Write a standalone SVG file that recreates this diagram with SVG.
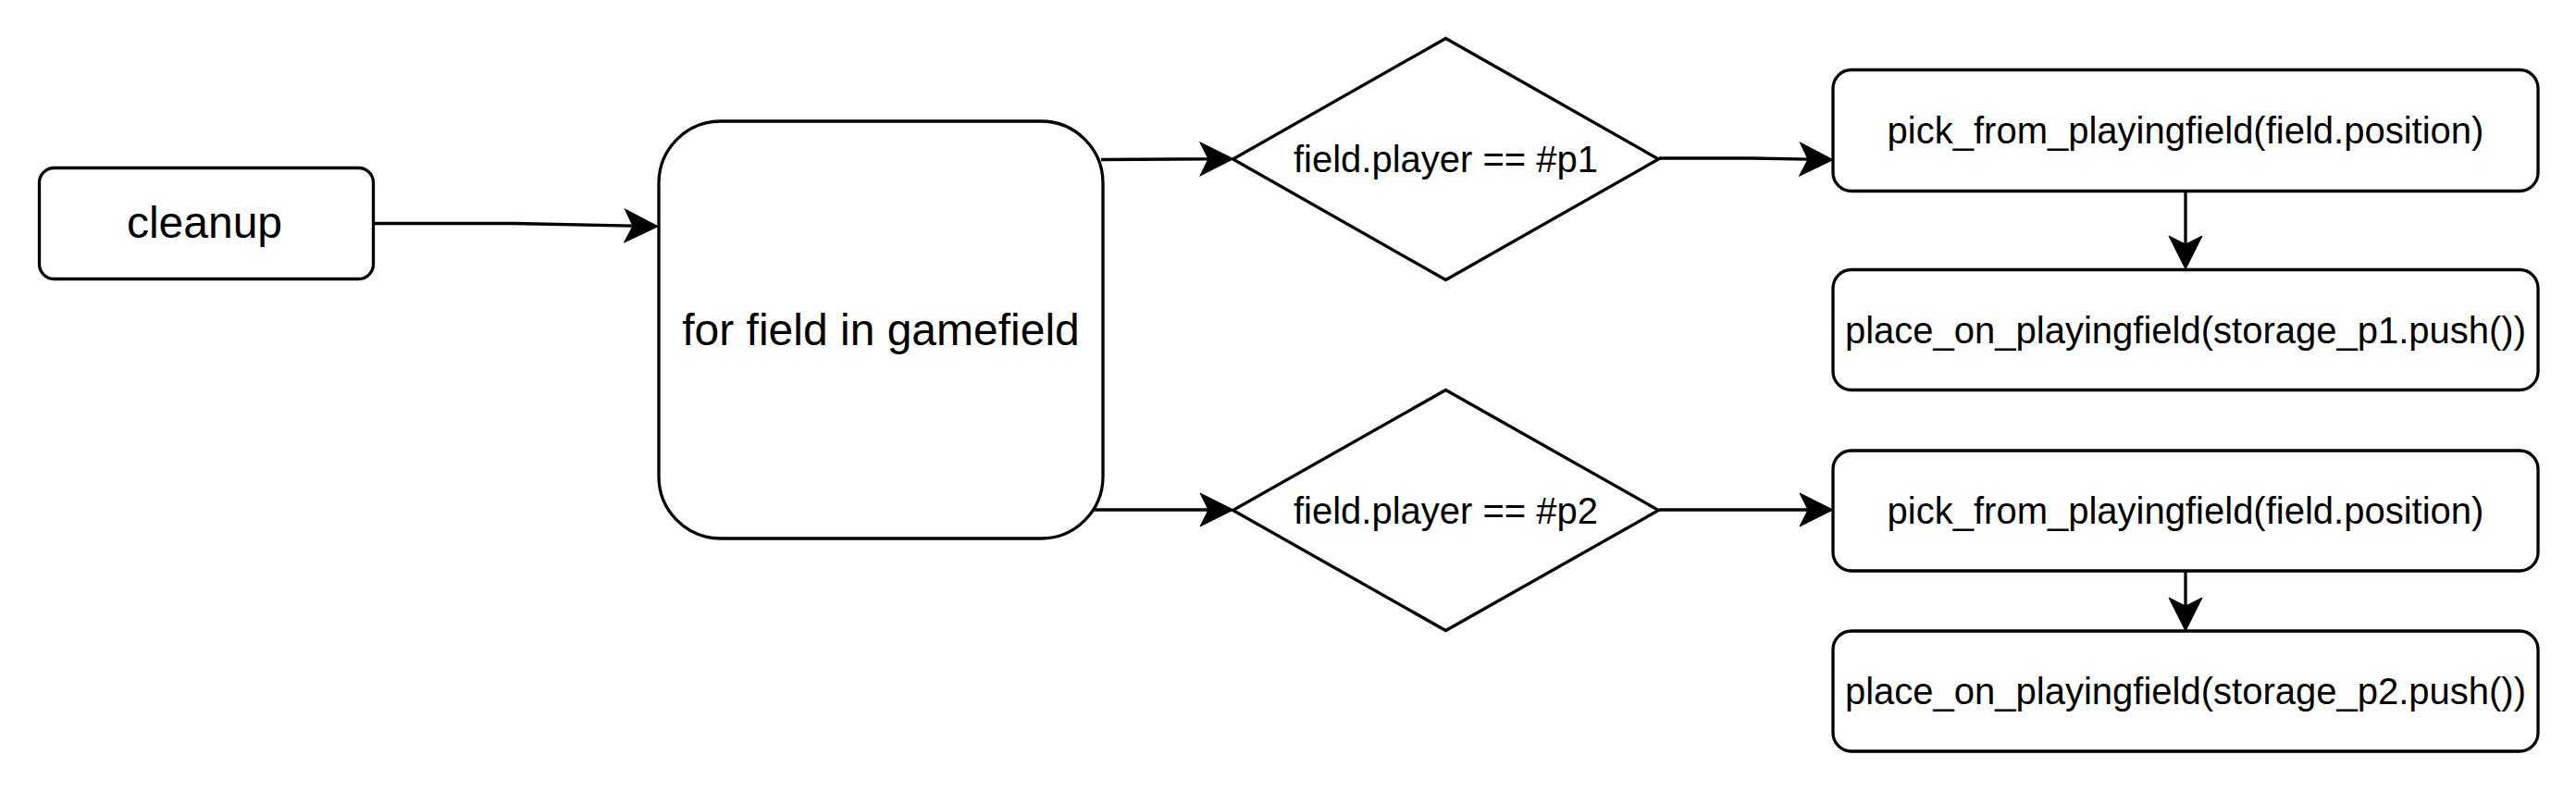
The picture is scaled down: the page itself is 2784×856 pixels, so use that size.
<svg xmlns="http://www.w3.org/2000/svg" width="2784" height="856" viewBox="0 0 2784 856">
<style>
.shape{fill:#ffffff;stroke:#000000;stroke-width:3.3;}
.edge{fill:none;stroke:#000000;stroke-width:3.3;marker-end:url(#arrow);}
.lbl{font-family:"Liberation Sans",Arial,sans-serif;fill:#000000;text-anchor:middle;dominant-baseline:central;}
.big{font-size:48px;}
.small{font-size:40px;}
</style>
<defs>
<marker id="arrow" viewBox="-10 -19 38 38" refX="0" refY="0" markerWidth="38" markerHeight="38" orient="auto" markerUnits="userSpaceOnUse">
<path d="M27,0 L-9,-18 L0,0 L-9,18 Z" fill="#000000" stroke="#000000" stroke-width="1"/>
</marker>
</defs>
<rect x="0" y="0" width="2784" height="856" fill="#ffffff"/>
<g id="connectors">
<path class="edge" d="M403,241.5 L556,241.5 L684,244.2"/>
<path class="edge" d="M1190,172.5 L1306,171.8"/>
<path class="edge" d="M1182,551 L1306,551"/>
<path class="edge" d="M1793,171 L1893,171 L1954,172.2"/>
<path class="edge" d="M1793,551 L1954,551"/>
<path class="edge" d="M2362,207 L2362,264"/>
<path class="edge" d="M2362,617 L2362,655"/>
</g>
<g id="cleanup">
<rect class="shape" x="42.5" y="181.5" width="361" height="120" rx="16" ry="16"/>
<text class="lbl big" x="221" y="240">cleanup</text>
</g>
<g id="loop">
<rect class="shape" x="712" y="131" width="480" height="451" rx="67" ry="67"/>
<text class="lbl big" x="952" y="356">for field in gamefield</text>
</g>
<g id="cond_p1">
<polygon class="shape" points="1562.5,41.5 1792.5,172 1562.5,302.5 1332.5,172"/>
<text class="lbl small" x="1562.5" y="172">field.player == #p1</text>
</g>
<g id="cond_p2">
<polygon class="shape" points="1562.5,421.5 1792.5,551.5 1562.5,681.5 1332.5,551.5"/>
<text class="lbl small" x="1562.5" y="551.5">field.player == #p2</text>
</g>
<g id="pick_p1">
<rect class="shape" x="1981" y="75.5" width="762" height="131" rx="20" ry="20"/>
<text class="lbl small" x="2362" y="141">pick_from_playingfield(field.position)</text>
</g>
<g id="place_p1">
<rect class="shape" x="1981" y="291.5" width="762" height="130" rx="20" ry="20"/>
<text class="lbl small" x="2362" y="356.5">place_on_playingfield(storage_p1.push())</text>
</g>
<g id="pick_p2">
<rect class="shape" x="1981" y="487" width="762" height="130" rx="20" ry="20"/>
<text class="lbl small" x="2362" y="552">pick_from_playingfield(field.position)</text>
</g>
<g id="place_p2">
<rect class="shape" x="1981" y="682" width="762" height="130" rx="20" ry="20"/>
<text class="lbl small" x="2362" y="747">place_on_playingfield(storage_p2.push())</text>
</g>
</svg>
